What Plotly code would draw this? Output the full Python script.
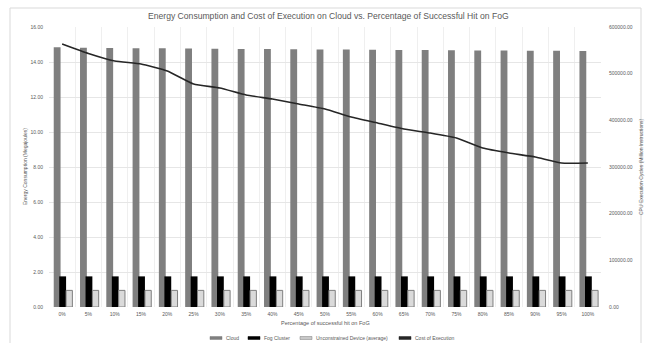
import plotly.graph_objects as go

categories = ["0%", "5%", "10%", "15%", "20%", "25%", "30%", "35%", "40%", "45%", "50%",
              "55%", "60%", "65%", "70%", "75%", "80%", "85%", "90%", "95%", "100%"]
cloud = [14.85, 14.82, 14.80, 14.79, 14.78, 14.77, 14.76, 14.75, 14.74, 14.73, 14.72,
         14.71, 14.70, 14.69, 14.68, 14.67, 14.66, 14.66, 14.65, 14.64, 14.63]
fog_cluster = [1.75] * 21
unconstrained = [0.95] * 21
cost_exec = [563600, 543200, 527100, 520700, 505700, 477800, 469300, 454300, 445700, 435000,
             424300, 407100, 394300, 381400, 372800, 362100, 340700, 330000, 321400, 308600, 308600]

left_ticks = [0, 2, 4, 6, 8, 10, 12, 14, 16]
right_ticks = [0, 100000, 200000, 300000, 400000, 500000, 600000]

legend_names = ["Cloud", "Fog Cluster", "Unconstrained Device (average)", "Cost of Execution"]
legend_colors = ["#7f7f7f", "#000000", "#c8c8c8", "#262626"]

FONT = "Liberation Sans"
TXT = "#595959"

W, H = 654, 343
L, R, T, B = 49, 53, 27, 36
PW, PH = W - L - R, H - T - B


def px_x(x):
    return (x - L) / PW


def px_y(y):
    return (H - B - y) / PH


fig = go.Figure()
fig.add_trace(go.Bar(x=categories, y=cloud, name=legend_names[0], marker_color=legend_colors[0],
                     width=0.26, offset=-0.32, marker_line_width=0))
fig.add_trace(go.Bar(x=categories, y=fog_cluster, name=legend_names[1], marker_color=legend_colors[1],
                     width=0.26, offset=-0.11, marker_line_width=0))
fig.add_trace(go.Bar(x=categories, y=unconstrained, name=legend_names[2],
                     marker_color="#dadada", marker_line_color="#7f7f7f", marker_line_width=1,
                     width=0.24, offset=0.15))
fig.add_trace(go.Scatter(x=categories, y=cost_exec, name=legend_names[3], mode="lines",
                         line=dict(color=legend_colors[3], width=1.6, shape="spline", smoothing=0.4),
                         yaxis="y2"))

# manual legend (Excel-style short swatches)
legend_sw = [210, 248, 300, 399]
shapes = [
    dict(type="rect", xref="paper", yref="paper", x0=px_x(10), x1=px_x(641), y0=px_y(346), y1=px_y(8),
         line=dict(color="#d9d9d9", width=1), fillcolor="rgba(0,0,0,0)", layer="below"),
]
annotations = [
    dict(text="Energy Consumption and Cost of Execution on Cloud vs. Percentage of Successful Hit on FoG",
         xref="paper", yref="paper", x=px_x(328), y=px_y(16), xanchor="center", yanchor="middle",
         showarrow=False, font=dict(size=8.6, color=TXT)),
    dict(text="Percentage of successful hit on FoG", xref="paper", yref="paper",
         x=0.5, y=px_y(323), xanchor="center", yanchor="middle", showarrow=False,
         font=dict(size=5.5, color=TXT)),
    dict(text="Energy Consumption (Megajoules)", xref="paper", yref="paper",
         x=px_x(25), y=0.5, textangle=-90, xanchor="center", yanchor="middle",
         showarrow=False, font=dict(size=5, color=TXT)),
    dict(text="CPU Execution Cycles (Million Instructions)", xref="paper", yref="paper",
         x=px_x(641), y=0.5, textangle=-90, xanchor="center", yanchor="middle",
         showarrow=False, font=dict(size=5, color=TXT)),
]
for name, col, sx in zip(legend_names, legend_colors, legend_sw):
    shapes.append(dict(type="rect", xref="paper", yref="paper", x0=px_x(sx), x1=px_x(sx + 12),
                       y0=px_y(339.5), y1=px_y(336.5), fillcolor=col,
                       line=dict(color="#7f7f7f" if col == "#c8c8c8" else col, width=0.5)))
    annotations.append(dict(text=name, xref="paper", yref="paper", x=px_x(sx + 14), y=px_y(338),
                            xanchor="left", yanchor="middle", showarrow=False,
                            font=dict(size=5, color=TXT)))

fig.update_layout(
    width=W, height=H,
    margin=dict(l=L, r=R, t=T, b=B),
    paper_bgcolor="white", plot_bgcolor="white",
    font=dict(family=FONT, color=TXT, size=5),
    barmode="overlay",
    showlegend=False,
    xaxis=dict(type="category", showgrid=True, gridcolor="#efefef", gridwidth=1,
               tickson="boundaries", ticks="", tickfont=dict(size=5, color=TXT),
               showline=False, zeroline=False, ticklabelstandoff=3, automargin=False),
    yaxis=dict(range=[0, 16], tickvals=left_ticks,
               ticktext=[f"{v:.2f}" for v in left_ticks],
               showgrid=True, gridcolor="#e6e6e6", gridwidth=1, zeroline=False,
               tickfont=dict(size=5, color=TXT), ticklabelstandoff=5, automargin=False),
    yaxis2=dict(range=[0, 600000], tickvals=right_ticks,
                ticktext=[f"{v:.2f}" for v in right_ticks],
                overlaying="y", side="right", showgrid=False, zeroline=False,
                tickfont=dict(size=5, color=TXT), ticklabelstandoff=7, automargin=False),
    annotations=annotations,
    shapes=shapes,
)

fig.write_html("out.html", config={"displayModeBar": False},
               post_script="document.body.style.margin='0';document.body.style.overflow='hidden';")
